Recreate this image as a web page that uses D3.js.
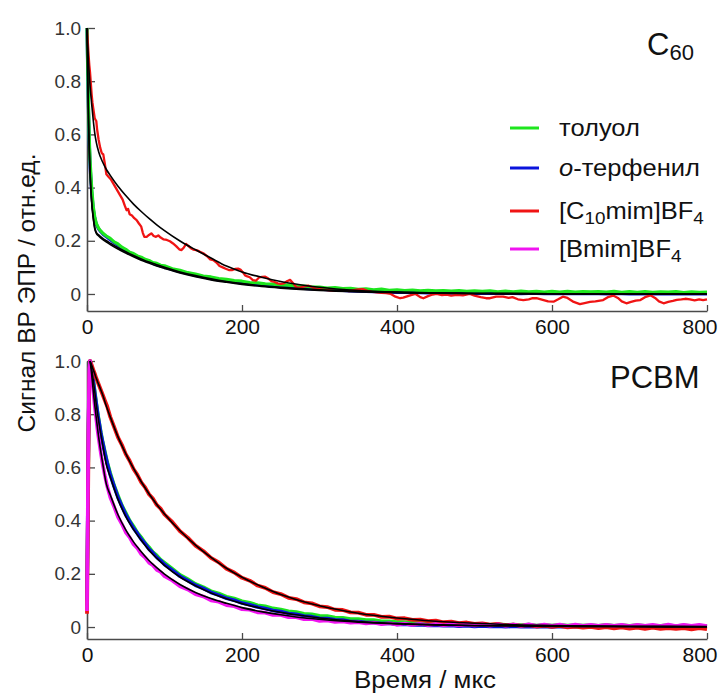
<!DOCTYPE html>
<html>
<head>
<meta charset="utf-8">
<script src="https://cdn.jsdelivr.net/npm/d3@7"></script>
<style>
  html, body { margin: 0; padding: 0; background: #fff; }
  svg { display: block; font-family: "Liberation Sans", Arial, sans-serif; }
</style>
</head>
<body>
<svg id="chart" width="720" height="698"></svg>
<script>
// ---------- tick labels ----------
const yTicks = [0, 0.2, 0.4, 0.6, 0.8, 1.0];
const xTicks = [0, 200, 400, 600, 800];

// ---------- legend ----------
const legendNames = ["толуол", "o-терфенил", "[C10mim]BF4", "[Bmim]BF4"];
const legendColors = ["#1ee61e", "#0a14dc", "#f01414", "#f014f0"];
// rich-text segments for each legend entry: [text, kind] kind: n normal, i italic, s subscript
const legendParts = [
  [["толуол", "n"]],
  [["o", "i"], ["-терфенил", "n"]],
  [["[C", "n"], ["10", "s"], ["mim]BF", "n"], ["4", "s"]],
  [["[Bmim]BF", "n"], ["4", "s"]]
];

// ---------- C60 panel: toluene & o-terphenyl ----------
const tC60 = [0,1,2,3,4,6,8,10,12,15,18,21,25,30,35,40,45,50,55,60,65,70,75,80,85,90,95,100,
  110,120,130,140,150,160,170,180,190,200,
  210,220,230,240,250,260,270,280,290,300,
  310,320,330,340,350,360,370,380,390,400,
  410,420,430,440,450,460,470,480,490,500,
  510,520,530,540,550,560,570,580,590,600,
  610,620,630,640,650,660,670,680,690,700,
  710,720,730,740,750,760,770,780,790,800];
const toluolC60 = [1.0,0.85,0.70,0.58,0.50,0.40,0.33,0.29,0.265,0.247,0.236,0.227,0.218,0.209,0.196,0.188,0.176,0.168,0.157,0.152,0.143,0.138,0.130,0.126,0.118,0.115,0.108,0.106,
  0.095,0.089,0.080,0.075,0.067,0.064,0.058,0.055,0.050,0.048,
  0.043,0.042,0.038,0.037,0.033,0.033,0.029,0.030,0.026,0.026,
  0.022,0.024,0.020,0.021,0.017,0.019,0.016,0.018,0.014,0.016,
  0.013,0.015,0.012,0.014,0.012,0.013,0.011,0.013,0.010,0.012,
  0.010,0.012,0.008,0.011,0.008,0.011,0.008,0.010,0.007,0.010,
  0.007,0.010,0.007,0.009,0.008,0.009,0.007,0.010,0.006,0.009,
  0.006,0.009,0.006,0.008,0.007,0.009,0.005,0.008,0.006,0.007];
const oterC60 = [1.0,0.83,0.68,0.56,0.48,0.385,0.32,0.285,0.262,0.244,0.233,0.224,0.215,0.204,0.193,0.183,0.173,0.163,0.155,0.147,0.140,0.133,0.127,0.121,0.115,0.110,0.105,0.101,
  0.092,0.084,0.077,0.070,0.064,0.058,0.053,0.049,0.045,0.041,
  0.038,0.035,0.032,0.030,0.027,0.025,0.023,0.021,0.019,0.018,
  0.016,0.015,0.013,0.012,0.011,0.010,0.009,0.008,0.007,0.006,
  0.006,0.005,0.005,0.004,0.004,0.003,0.004,0.003,0.003,0.002,
  0.003,0.002,0.002,0.003,0.002,0.001,0.002,0.002,0.001,0.002,
  0.001,0.002,0.001,0.001,0.002,0.001,0.000,0.001,0.001,0.000,
  0.001,0.000,0.001,0.000,0.001,0.000,0.000,0.001,0.000,0.000];

// ---------- C60 panel: [C10mim]BF4 ----------
const tC10C60 = [0,1,2,3,4,5,6,7,8,9,
  10,11,12,13,14,15,17,19,21,23,
  25,28,31,34,37,40,43,46,49,51,
  53,55,58,61,64,67,70,72,74,77,
  80,83,86,89,92,95,99,103,107,111,
  115,119,122,125,128,131,134,137,141,145,
  150,155,159,163,167,171,175,179,183,187,
  191,195,198,201,204,207,210,214,218,222,
  226,230,234,238,242,246,250,254,258,262,
  266,270,274,278,282,286,290,295,300,305,
  310,315,320,326,332,338,344,350,356,362,
  368,374,380,386,392,398,404,408,412,418,
  424,430,434,440,446,451,458,464,470,477,
  485,494,500,508,515,520,528,537,544,549,
  556,563,570,575,580,588,595,602,608,614,
  620,628,636,642,649,656,662,666,672,679,
  685,690,696,702,708,714,720,727,733,738,
  744,750,756,761,767,772,778,784,790,795,
  800];
const c10C60 = [1.0,0.95,0.9,0.86,0.83,0.79,0.75,0.72,0.70,0.68,
  0.66,0.655,0.65,0.62,0.60,0.58,0.55,0.53,0.525,0.49,
  0.45,0.44,0.43,0.415,0.40,0.385,0.37,0.355,0.33,0.315,
  0.32,0.30,0.295,0.285,0.278,0.265,0.253,0.23,0.215,0.215,
  0.222,0.228,0.218,0.215,0.22,0.212,0.205,0.203,0.198,0.19,
  0.18,0.168,0.165,0.175,0.188,0.18,0.172,0.167,0.165,0.16,
  0.153,0.142,0.13,0.127,0.118,0.105,0.10,0.095,0.09,0.09,
  0.094,0.095,0.092,0.082,0.07,0.066,0.063,0.052,0.05,0.062,
  0.064,0.065,0.058,0.048,0.045,0.04,0.038,0.04,0.048,0.053,
  0.04,0.026,0.024,0.027,0.03,0.031,0.026,0.02,0.018,0.016,
  0.015,0.013,0.012,0.012,0.015,0.011,0.014,0.017,0.018,0.012,
  0.008,0.006,0.004,0.003,0.0,-0.01,-0.016,-0.014,-0.01,-0.004,
  0.0,-0.012,-0.016,-0.008,-0.002,0.0,-0.004,-0.002,-0.006,-0.003,
  -0.005,0.0,-0.006,-0.012,-0.016,-0.016,-0.01,-0.01,-0.015,-0.012,
  -0.02,-0.023,-0.02,-0.016,-0.016,-0.022,-0.028,-0.029,-0.02,-0.01,
  -0.015,-0.03,-0.038,-0.034,-0.03,-0.028,-0.025,-0.023,-0.012,-0.006,
  -0.015,-0.028,-0.035,-0.03,-0.025,-0.023,-0.012,-0.005,-0.015,-0.028,
  -0.035,-0.03,-0.026,-0.022,-0.02,-0.018,-0.02,-0.024,-0.02,-0.023,
  -0.02];

// ---------- C60 panel: fits ----------
const tFitC60 = [0,1,2,4,6,8,10,12,15,20,25,30,40,50,60,70,80,90,100,120,140,160,180,200,225,250,275,300,350,400,450,500,600,700,800];
const fitToluolC60 = [1.0,0.82,0.66,0.46,0.35,0.29,0.25,0.232,0.222,0.210,0.200,0.191,0.174,0.159,0.145,0.132,0.120,0.110,0.100,0.083,0.069,0.057,0.047,0.039,0.031,0.025,0.020,0.016,0.010,0.006,0.004,0.002,0.001,0.000,0.000];
const fitOterC60 = [1.0,0.80,0.64,0.45,0.345,0.285,0.245,0.228,0.218,0.205,0.195,0.186,0.169,0.154,0.140,0.127,0.116,0.105,0.096,0.079,0.065,0.053,0.044,0.036,0.028,0.022,0.017,0.013,0.008,0.005,0.003,0.002,0.001,0.000,0.000];
const fitC10C60 = [1.0,0.93,0.87,0.78,0.715,0.655,0.605,0.57,0.535,0.497,0.468,0.446,0.405,0.37,0.338,0.31,0.284,0.26,0.238,0.199,0.166,0.135,0.105,0.083,0.063,0.047,0.035,0.025,0.013,0.007,0.004,0.002,0.001,0.000,0.000];

// ---------- PCBM panel: data ----------
const tP = [0,1,2,3,4,6,8,10,12,14,16,18,20,23,26,30,35,40,45,50,55,60,65,70,75,80,85,90,95,100,
  110,120,130,140,150,160,170,180,190,200,
  210,220,230,240,250,260,270,280,290,300,
  310,320,330,340,350,360,370,380,390,400,
  410,420,430,440,450,460,470,480,490,500,
  510,520,530,540,550,560,570,580,590,600,
  610,620,630,640,650,660,670,680,690,700,
  710,720,730,740,750,760,770,780,790,800];
const toluolP = [0.08,0.4,0.75,0.96,1.0,0.97,0.93,0.885,0.84,0.80,0.765,0.73,0.70,0.66,0.62,0.579,0.532,0.494,0.457,0.429,0.40,0.379,0.355,0.337,0.316,0.300,0.282,0.269,0.253,0.242,
  0.219,0.196,0.180,0.162,0.150,0.135,0.126,0.114,0.107,0.097,
  0.091,0.082,0.078,0.070,0.066,0.059,0.056,0.050,0.048,0.042,
  0.041,0.036,0.035,0.030,0.030,0.026,0.026,0.022,0.022,0.019,
  0.019,0.016,0.017,0.014,0.015,0.012,0.013,0.011,0.012,0.009,
  0.011,0.008,0.010,0.008,0.009,0.007,0.009,0.006,0.008,0.006,
  0.008,0.006,0.007,0.006,0.007,0.005,0.008,0.005,0.007,0.005,
  0.007,0.005,0.006,0.005,0.007,0.004,0.007,0.004,0.006,0.004];
const oterP = [0.1,0.42,0.76,0.96,1.0,0.966,0.928,0.880,0.838,0.796,0.762,0.725,0.697,0.655,0.617,0.572,0.529,0.487,0.454,0.422,0.397,0.372,0.352,0.330,0.313,0.293,0.279,0.262,0.250,0.235,
  0.214,0.191,0.175,0.157,0.145,0.130,0.120,0.108,0.101,0.090,
  0.084,0.075,0.070,0.062,0.058,0.051,0.048,0.041,0.039,0.033,
  0.032,0.027,0.026,0.021,0.021,0.017,0.017,0.013,0.014,0.010,
  0.011,0.008,0.009,0.006,0.007,0.005,0.006,0.003,0.005,0.002,
  0.004,0.002,0.003,0.001,0.003,0.001,0.002,0.001,0.002,0.000,
  0.002,0.001,0.002,0.000,0.003,0.000,0.002,0.001,0.002,0.001,
  0.002,0.001,0.002,0.001,0.002,0.001,0.002,0.000,0.003,0.000];
const c10P = [0.05,0.35,0.72,0.95,1.0,0.985,0.968,0.952,0.935,0.92,0.905,0.89,0.875,0.852,0.83,0.79,0.752,0.713,0.685,0.650,0.625,0.594,0.572,0.544,0.525,0.499,0.483,0.459,0.445,0.423,
  0.395,0.360,0.336,0.306,0.286,0.260,0.243,0.219,0.205,0.185,
  0.174,0.156,0.147,0.131,0.124,0.110,0.105,0.093,0.089,0.078,
  0.075,0.065,0.064,0.055,0.054,0.046,0.046,0.038,0.039,0.032,
  0.033,0.027,0.028,0.022,0.024,0.018,0.020,0.015,0.017,0.012,
  0.014,0.009,0.012,0.006,0.009,0.004,0.007,0.002,0.005,0.001,
  0.004,-0.001,0.002,-0.002,0.001,-0.004,0.000,-0.005,-0.001,-0.006,
  -0.002,-0.007,-0.002,-0.007,-0.004,-0.007,-0.004,-0.009,-0.004,-0.008];
const bmimP = [0.06,0.45,0.8,0.97,1.0,0.95,0.89,0.83,0.78,0.73,0.69,0.65,0.615,0.57,0.53,0.488,0.452,0.413,0.387,0.356,0.337,0.311,0.296,0.274,0.261,0.242,0.232,0.215,0.207,0.191,
  0.175,0.153,0.141,0.123,0.115,0.100,0.095,0.082,0.078,0.067,
  0.065,0.055,0.054,0.045,0.045,0.037,0.037,0.029,0.030,0.023,
  0.025,0.019,0.021,0.016,0.018,0.013,0.016,0.011,0.014,0.009,
  0.013,0.008,0.012,0.007,0.011,0.007,0.010,0.006,0.010,0.006,
  0.010,0.005,0.010,0.005,0.009,0.005,0.010,0.005,0.009,0.005,
  0.009,0.004,0.009,0.005,0.008,0.005,0.008,0.005,0.008,0.004,
  0.008,0.005,0.008,0.004,0.009,0.004,0.008,0.005,0.008,0.004];

// ---------- PCBM panel: fits ----------
const tFitP = [4,6,8,10,12,15,20,25,30,40,50,60,70,80,90,100,120,140,160,180,200,225,250,275,300,350,400,450,500,600,700,800];
const fitC10P = [1.0,0.985,0.968,0.952,0.935,0.912,0.875,0.83,0.79,0.715,0.652,0.596,0.546,0.501,0.461,0.425,0.362,0.308,0.262,0.221,0.187,0.152,0.122,0.099,0.080,0.052,0.034,0.022,0.014,0.006,0.002,0.001];
const fitToluolP = [1.0,0.97,0.93,0.885,0.835,0.775,0.69,0.61,0.565,0.48,0.416,0.367,0.326,0.289,0.259,0.232,0.188,0.155,0.128,0.106,0.088,0.070,0.055,0.044,0.034,0.021,0.013,0.008,0.005,0.002,0.001,0.000];
const fitBmimP = [1.0,0.95,0.89,0.835,0.785,0.715,0.62,0.537,0.497,0.422,0.365,0.320,0.283,0.25,0.223,0.199,0.16,0.13,0.107,0.089,0.073,0.058,0.046,0.036,0.029,0.018,0.012,0.008,0.006,0.004,0.003,0.002];

// ---------- drawing ----------
const svg = d3.select("#chart");
const FONT = '"Liberation Sans", Arial, sans-serif';
const AXIS = "#4a4a4a";

const x = d3.scaleLinear().domain([0, 800]).range([87, 707]);
const yTop = d3.scaleLinear().domain([-0.064, 1.0]).range([311, 28]);
const yBot = d3.scaleLinear().domain([-0.045, 1.0]).range([639, 361]);

function drawAxes(y, yBase) {
  const gy = svg.append("g").attr("transform", "translate(87,0)")
    .call(d3.axisLeft(y).tickValues(yTicks)
      .tickFormat(d => d === 0 ? "0" : d.toFixed(1))
      .tickSizeInner(-8).tickSizeOuter(0).tickPadding(6));
  gy.select(".domain").attr("stroke", AXIS).attr("stroke-width", 1.6);
  gy.selectAll(".tick line").attr("stroke", AXIS).attr("stroke-width", 1.3);
  gy.selectAll(".tick text").attr("font-family", FONT).attr("font-size", 19).attr("fill", "#333");

  const gx = svg.append("g").attr("transform", `translate(0,${yBase})`)
    .call(d3.axisBottom(x).tickValues(xTicks).tickFormat(d3.format("d"))
      .tickSizeInner(-6).tickSizeOuter(0).tickPadding(8));
  gx.select(".domain").attr("stroke", AXIS).attr("stroke-width", 1.6);
  gx.selectAll(".tick line").attr("stroke", AXIS).attr("stroke-width", 1.3);
  gx.selectAll(".tick text").attr("font-family", FONT).attr("font-size", 21).attr("fill", "#111");
  // keep the last label inside the page, as in the reference
  gx.selectAll(".tick text").filter(d => d === xTicks[xTicks.length - 1])
    .attr("text-anchor", "end").attr("x", 10);
}

function drawSeries(y, ts, vs, color, width) {
  const line = d3.line().x(d => x(d[0])).y(d => y(d[1]));
  svg.append("path")
    .datum(d3.zip(ts, vs))
    .attr("d", line)
    .attr("fill", "none")
    .attr("stroke", color)
    .attr("stroke-width", width)
    .attr("stroke-linejoin", "round");
}
function drawFit(y, ts, vs) {
  const line = d3.line().x(d => x(d[0])).y(d => y(d[1])).curve(d3.curveMonotoneX);
  svg.append("path")
    .datum(d3.zip(ts, vs))
    .attr("d", line)
    .attr("fill", "none")
    .attr("stroke", "#000")
    .attr("stroke-width", 1.6);
}

// top panel (C60)
drawAxes(yTop, 311);
drawSeries(yTop, tC60, oterC60, legendColors[1], 3.2);
drawSeries(yTop, tC60, toluolC60, legendColors[0], 3.2);
drawSeries(yTop, tC10C60, c10C60, legendColors[2], 2.3);
drawFit(yTop, tFitC60, fitToluolC60);
drawFit(yTop, tFitC60, fitOterC60);
drawFit(yTop, tFitC60, fitC10C60);

// bottom panel (PCBM)
drawAxes(yBot, 639);
drawSeries(yBot, tP, toluolP, legendColors[0], 3.6);
drawSeries(yBot, tP, oterP, legendColors[1], 3.6);
drawSeries(yBot, tP, c10P, legendColors[2], 3.8);
drawSeries(yBot, tP, bmimP, legendColors[3], 3.6);
drawFit(yBot, tFitP, fitC10P);
drawFit(yBot, tFitP, fitToluolP);
drawFit(yBot, tFitP, fitBmimP);

// panel titles
const c60 = svg.append("text").attr("x", 647).attr("y", 55)
  .attr("font-family", FONT).attr("font-size", 31).attr("fill", "#111");
c60.append("tspan").text("C");
c60.append("tspan").attr("font-size", 22).attr("dy", 5).text("60");

svg.append("text").attr("x", 610).attr("y", 388)
  .attr("font-family", FONT).attr("font-size", 31).attr("fill", "#111").text("PCBM");

// legend
const legendY = [128, 168, 211, 249];
legendNames.forEach((name, i) => {
  svg.append("line").attr("x1", 510).attr("x2", 539)
    .attr("y1", legendY[i]).attr("y2", legendY[i])
    .attr("stroke", legendColors[i]).attr("stroke-width", 3);
  const t = svg.append("text")
    .attr("transform", `translate(559,${legendY[i] + 8}) scale(1.11,1)`)
    .attr("font-family", FONT).attr("font-size", 23).attr("fill", "#111");
  let shifted = false;
  legendParts[i].forEach(([txt, kind]) => {
    const s = t.append("tspan").text(txt);
    if (kind === "i") s.attr("font-style", "italic");
    if (kind === "s") { s.attr("font-size", 17).attr("dy", shifted ? 0 : 5); shifted = true; }
    else if (shifted) { s.attr("dy", -5); shifted = false; }
  });
});

// axis titles
svg.append("text")
  .attr("transform", "translate(35,293) rotate(-90)")
  .attr("text-anchor", "middle")
  .attr("font-family", FONT).attr("font-size", 24.5).attr("fill", "#111")
  .text("Сигнал ВР ЭПР / отн.ед.");
svg.append("text")
  .attr("transform", "translate(425,688) scale(1.08,1)")
  .attr("text-anchor", "middle")
  .attr("font-family", FONT).attr("font-size", 24).attr("fill", "#111")
  .text("Время / мкс");
</script>
</body>
</html>
